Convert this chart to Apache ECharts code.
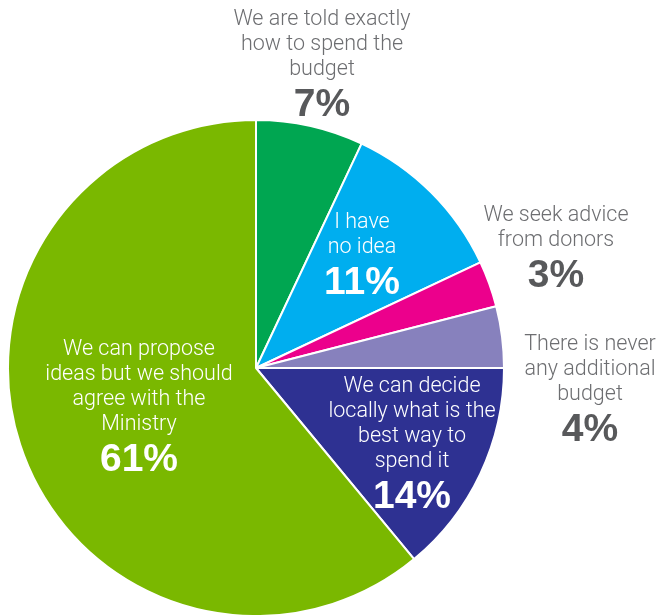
<!DOCTYPE html>
<html>
<head>
<meta charset="utf-8">
<script src="https://cdn.jsdelivr.net/npm/echarts@6/dist/echarts.min.js"></script>
<style>
  html, body { margin: 0; padding: 0; background: #ffffff; }
  #chart { width: 661px; height: 615px; }
</style>
</head>
<body>
<div id="chart"></div>
<script>
// Answers, clockwise from 12 o'clock
const categories = [
  'We are told exactly\nhow to spend the\nbudget',
  'I have\nno idea',
  'We seek advice\nfrom donors',
  'There is never\nany additional\nbudget',
  'We can decide\nlocally what is the\nbest way to\nspend it',
  'We can propose\nideas but we should\nagree with the\nMinistry'
];
const shares = [7, 11, 3, 4, 14, 61];

const sliceColors = ['#00a651', '#00aeef', '#ec008c', '#8781bd', '#2e3192', '#7ab800'];
// labels drawn on top of the slice (white) vs. beside the pie (grey)
const insideLabel = [false, true, false, false, true, true];
// top-centre anchor of each label block
const labelAnchors = [
  [322, 7], [362, 210], [556, 203], [590, 332], [412, 374], [139, 337]
];

const data = shares.map((v, i) => ({
  name: categories[i],
  value: v,
  itemStyle: { color: sliceColors[i] },
  label: {
    rich: {
      t: { color: insideLabel[i] ? '#ffffff' : '#6d6e71' },
      p: { color: insideLabel[i] ? '#ffffff' : '#58595b' }
    }
  }
}));

const chart = echarts.init(document.getElementById('chart'));
chart.setOption({
  animation: false,
  series: [{
    type: 'pie',
    center: [256, 368],
    radius: 248,
    startAngle: 90,
    clockwise: true,
    itemStyle: { borderColor: '#ffffff', borderWidth: 2 },
    label: {
      show: true,
      position: 'inside',
      formatter: p => p.name.split('\n').map(s => '{t|' + s + '}').join('\n') + '\n{p|' + p.value + '%}',
      rich: {
        t: {
          fontFamily: 'Roboto, "Helvetica Neue", Arial, sans-serif',
          fontWeight: 300,
          fontSize: 21.5,
          lineHeight: 25,
          align: 'center'
        },
        p: {
          fontFamily: '"Liberation Sans", Arial, sans-serif',
          fontWeight: 'bold',
          fontSize: 39,
          lineHeight: 46,
          align: 'center'
        }
      }
    },
    labelLine: { show: false },
    labelLayout: params => ({
      x: labelAnchors[params.dataIndex][0],
      y: labelAnchors[params.dataIndex][1],
      align: 'center',
      verticalAlign: 'top'
    }),
    data: data
  }]
});
</script>
</body>
</html>
